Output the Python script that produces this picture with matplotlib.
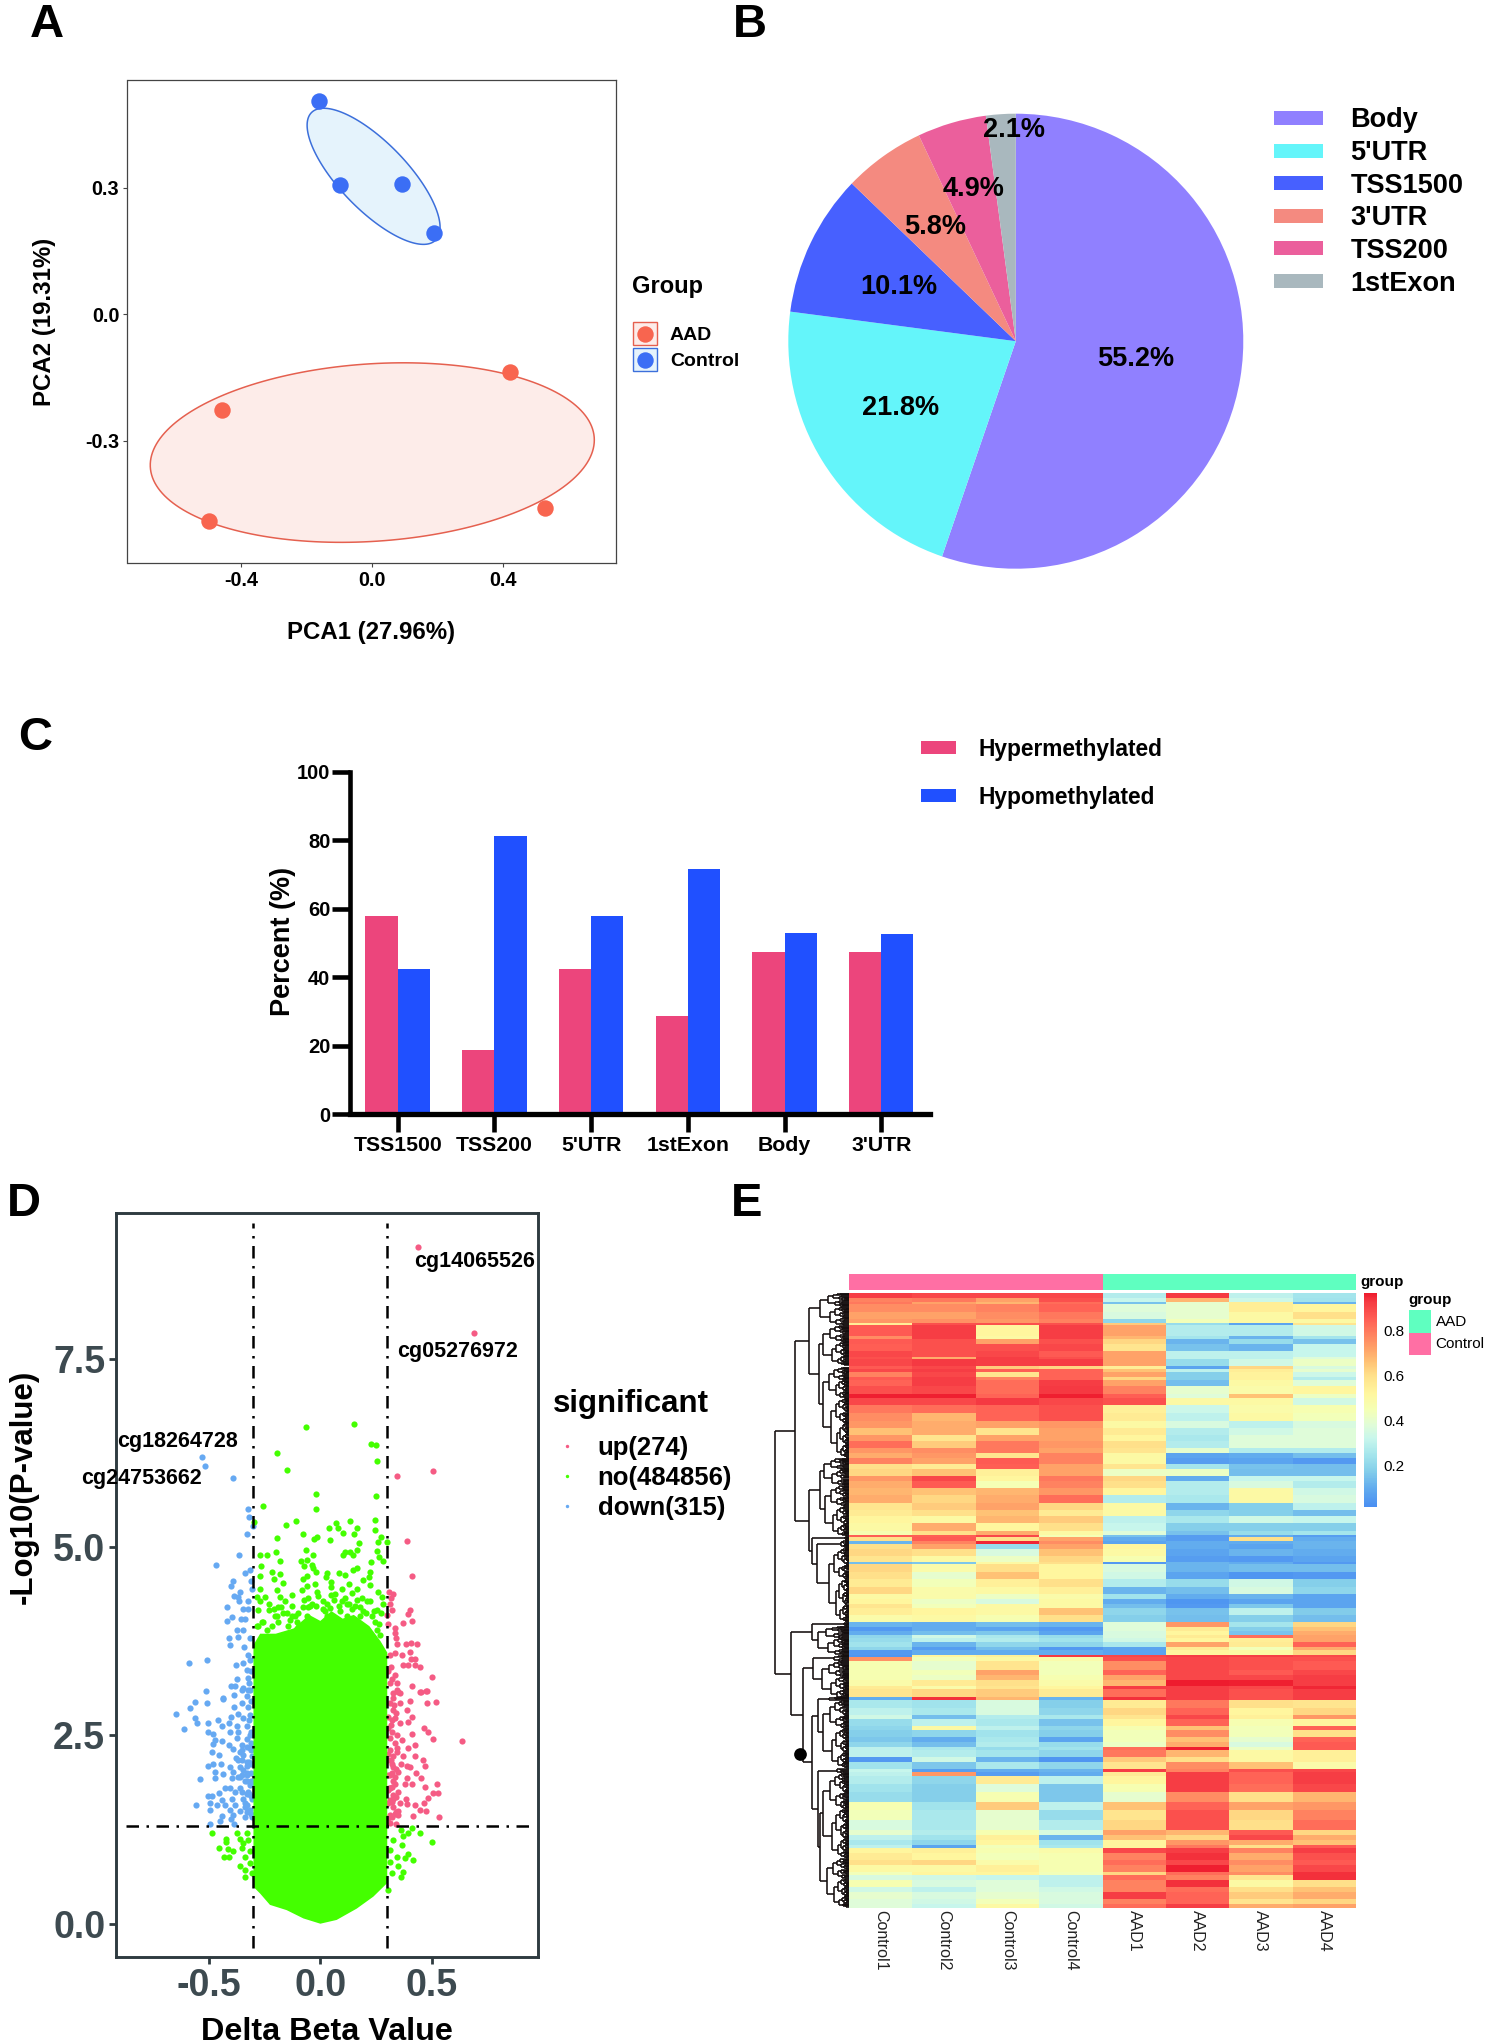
import numpy as np
import matplotlib
matplotlib.use("Agg")
import matplotlib.pyplot as plt
from matplotlib.patches import Rectangle
from matplotlib.colors import LinearSegmentedColormap
from matplotlib.collections import LineCollection

W, H = 1488, 2044
plt.rcParams['font.family'] = ['Liberation Sans', 'DejaVu Sans']
plt.rcParams['font.weight'] = 'bold'
plt.rcParams['axes.unicode_minus'] = False

# ---------- Panel A ----------
PCA_AAD_X = [0.42, -0.46, -0.50, 0.528]
PCA_AAD_Y = [-0.136, -0.228, -0.491, -0.46]
PCA_CTL_X = [-0.164, -0.10, 0.092, 0.188]
PCA_CTL_Y = [0.505, 0.307, 0.309, 0.193]
# centre x, centre y, half-width x, half-height y, correlation
ELL_AAD = (0.0, -0.328, 0.678, 0.213, 0.14)
ELL_CTL = (0.004, 0.3275, 0.203, 0.1615, -0.75)

# ---------- Panel B ----------
PIE_LABELS = ['Body', "5'UTR", 'TSS1500', "3'UTR", 'TSS200', '1stExon']
PIE_VALUES = [55.2, 21.8, 10.1, 5.8, 4.9, 2.1]
PIE_COLORS = ['#9080FF', '#64F5FA', '#4760FF', '#F48A80', '#EB5F9C', '#A9B8BE']

# ---------- Panel C ----------
BAR_CATS = ['TSS1500', 'TSS200', "5'UTR", '1stExon', 'Body', "3'UTR"]
BAR_HYPER = [57.7, 18.7, 42.2, 28.6, 47.2, 47.4]
BAR_HYPO = [42.3, 81.3, 57.8, 71.4, 52.8, 52.6]

# ---------- Panel D ----------
MASS_X = [-0.30, -0.27, -0.20, -0.12, -0.05, 0.0, 0.05, 0.10, 0.15, 0.22, 0.27, 0.30,
          0.30, 0.238, 0.163, 0.073, 0.0, -0.076, -0.151, -0.226, -0.27, -0.30]
MASS_Y = [3.70, 3.85, 3.85, 3.92, 4.10, 4.02, 4.15, 4.05, 4.10, 3.95, 3.75, 3.60,
          0.54, 0.36, 0.20, 0.05, 0.0, 0.07, 0.18, 0.25, 0.40, 0.49]
NO_X = [-.065, .149, .228, .249, -.196, .252, -.151, -.021, .248, -.259, -.021, -.111, -.156, .134, .244, -.296,
        .07, .04, .077, .164, .244, .101, -.078, .152, -.193, -.029, -.014, .045, .272, .26, .297, .172,
        -.065, .163, -.199, -.271, -.238, -.035, .11, .133, .10, .147, .255, .263, .279, -.183, -.087, -.059,
        .228, -.266, -.073, -.039, .163, -.032, -.021, .147, -.219, -.181, .082, .11, .032, .222, -.271, -.062,
        -.208, -.08, .025, .22, -.166, -.024, .05, .13, .192, -.062, .05, .095, .222, -.271, -.196, -.084,
        -.017, .163, .26, -.286, -.248, -.181, -.129, -.054, .05, .11, .14, .275, -.271, -.16, -.039, .013,
        .095, .222, .282, -.188, -.077, .043, .178, -.23, .253, -.278, -.196, -.129, -.062, .028, .118, .178,
        -.256, -.188, -.106, -.278, -.218, -.144, .253, -.09, .267,
        -.484, -.423, -.423, -.453, -.413, -.39, -.431, -.41, -.375, -.36, -.345, -.33, -.323, -.352, -.316,
        -.338, -.36, -.338, -.316, -.338, -.308,
        .36, .41, .446, .499, .372, .394, .327, .365, .394, .417, .38, .342, .312, .35, .372, .32, .361, .305, .312,
        -.24, -.204, -.167, -.137, -.114, -.099, -.055, -.02, .01, .03, .06, .085, .12, .14, .165, .19, .205, .23, .245, .265,
        -.285, -.26, -.23, -.21, -.175, -.15, -.125, -.10, -.075, -.045, -.01, .02, .065, .09, .13, .155, .185, .21, .24, .27]
NO_Y = [6.60, 6.64, 6.37, 6.35, 6.25, 6.14, 6.03, 5.70, 5.68, 5.54, 5.50, 5.35, 5.29, 5.34, 5.36, 5.33,
        5.32, 5.25, 5.26, 5.25, 5.23, 5.19, 5.18, 5.17, 5.12, 5.11, 5.13, 5.10, 5.13, 5.07, 5.07, 5.05,
        4.96, 4.96, 4.93, 4.90, 4.89, 4.90, 4.94, 4.94, 4.89, 4.90, 4.95, 4.87, 4.82, 4.81, 4.81, 4.83,
        4.80, 4.75, 4.75, 4.76, 4.72, 4.72, 4.67, 4.70, 4.67, 4.64, 4.66, 4.63, 4.65, 4.67, 4.62, 4.62,
        4.58, 4.58, 4.60, 4.60, 4.52, 4.51, 4.53, 4.51, 4.56, 4.48, 4.47, 4.45, 4.50, 4.45, 4.43, 4.43,
        4.41, 4.45, 4.41, 4.34, 4.34, 4.34, 4.36, 4.32, 4.36, 4.32, 4.39, 4.34, 4.28, 4.29, 4.25, 4.28,
        4.28, 4.28, 4.25, 4.20, 4.20, 4.19, 4.20, 4.16, 4.17, 4.17, 4.09, 4.08, 4.08, 4.08, 4.08, 4.08,
        4.01, 4.01, 4.01, 3.95, 3.95, 3.95, 3.90, 3.90, 3.83,
        1.20, 1.13, 1.08, 1.00, .99, .96, .89, .89, 1.20, 1.13, 1.07, 1.20, 1.11, 1.00, .96,
        .89, .76, .71, .80, .62, .67,
        1.24, 1.27, 1.20, 1.08, 1.16, 1.20, 1.11, 1.04, .93, .85, .87, .89, .98, .76, .69, .67, .62, .45, .82,
        3.90, 4.08, 4.12, 4.03, 4.08, 3.94, 4.20, 4.22, 4.18, 4.25, 4.30, 4.22, 4.25, 4.18, 4.30, 4.15, 4.12, 4.08, 4.00, 3.98,
        3.95, 4.00, 4.25, 4.18, 4.20, 4.12, 4.22, 4.12, 4.30, 4.22, 4.35, 4.15, 4.38, 4.15, 4.25, 4.22, 4.32, 4.28, 4.15, 4.12]
DOWN_X = [-.53, -.518, -.392, -.326, -.319, -.30, -.328, -.365, -.47, -.338, -.316, -.313, -.393, -.40, -.308, -.36,
          -.387, -.368, -.364, -.325, -.42, -.345, -.323, -.398, -.42, -.356, -.337, -.375, -.345, -.41, -.368, -.316,
          -.405, -.342, -.51, -.59, -.323, -.345, -.316, -.38, -.327, -.372, -.323, -.512, -.402, -.383, -.345, -.316,
          -.435, -.388, -.352, -.323, -.435, -.564, -.509, -.583, -.647, -.388, -.352, -.323, -.316, -.368, -.561, -.552,
          -.458, -.40, -.345, -.503, -.442, -.408, -.375, -.33, -.61, -.505, -.483, -.405, -.375, -.316, -.472, -.442,
          -.48, -.41, -.353, -.39, -.316, -.487, -.453, -.345, -.368, -.308, -.503, -.48, -.444, -.405, -.36, -.327,
          -.39, -.345, -.472, -.435, -.472, -.538, -.398, -.338, -.316, -.36, -.428, -.405, -.453, -.383, -.323, -.505,
          -.486, -.398, -.442, -.345, -.308, -.496, -.465, -.558, -.428, -.383, -.33, -.493, -.405, -.36, -.316, -.442,
          -.39, -.338, -.45, -.496, -.402, -.387, -.308,
          -.31, -.32, -.33, -.31, -.32, -.33, -.31, -.32, -.33, -.31, -.32, -.33, -.34, -.35, -.36, -.37,
          -.31, -.325, -.34, -.31, -.33, -.35, -.31, -.33, -.31, -.33, -.35, -.37, -.31, -.33, -.35, -.31, -.33, -.36, -.38, -.31]
DOWN_Y = [6.20, 6.08, 5.92, 5.50, 5.40, 5.28, 5.17, 4.89, 4.76, 4.65, 4.70, 4.55, 4.55, 4.48, 4.44, 4.41,
          4.35, 4.34, 4.28, 4.29, 4.20, 4.18, 4.18, 4.07, 4.02, 4.05, 4.05, 3.90, 3.90, 3.79, 3.80, 3.79,
          3.70, 3.67, 3.50, 3.46, 3.57, 3.46, 3.50, 3.43, 3.37, 3.25, 3.26, 3.09, 3.15, 3.15, 3.13, 3.10,
          2.99, 3.04, 3.10, 3.10, 2.98, 2.95, 2.93, 2.86, 2.79, 2.88, 2.93, 2.88, 2.77, 2.79, 2.73, 2.66,
          2.71, 2.74, 2.73, 2.66, 2.63, 2.66, 2.62, 2.62, 2.58, 2.54, 2.52, 2.55, 2.47, 2.51, 2.44, 2.42,
          2.38, 2.37, 2.37, 2.32, 2.33, 2.28, 2.24, 2.24, 2.17, 2.22, 2.10, 2.12, 2.12, 2.08, 2.08, 2.09,
          2.02, 2.04, 2.01, 1.99, 1.94, 1.92, 1.93, 1.89, 1.84, 1.80, 1.80, 1.80, 1.74, 1.75, 1.75, 1.70,
          1.70, 1.66, 1.64, 1.66, 1.66, 1.60, 1.57, 1.57, 1.58, 1.58, 1.58, 1.51, 1.51, 1.49, 1.51, 1.43,
          1.44, 1.42, 1.36, 1.33, 1.39, 1.32, 1.42,
          3.36, 3.20, 3.02, 2.96, 2.70, 2.45, 2.40, 2.15, 1.98, 1.90, 1.72, 1.48, 1.60, 2.30, 1.95, 2.55,
          1.45, 1.50, 1.55, 1.70, 1.72, 1.75, 1.85, 1.90, 2.00, 2.00, 1.97, 1.95, 2.12, 2.15, 2.18, 2.30, 2.35, 2.28, 2.20, 2.55]
UP_X = [.439, .691, .505, .343, .388, .409, .308, .327, .315, .312, .322, .40, .394, .301, .412, .37, .304, .336, .336, .34,
        .344, .382, .406, .435, .334, .364, .40, .312, .424, .405, .372, .394, .424, .446, .319, .334, .50, .413, .342, .312,
        .476, .45, .35, .327, .342, .357, .448, .478, .327, .357, .402, .478, .52, .312, .387, .327, .413, .394, .334, .357,
        .317, .466, .481, .412, .504, .633, .342, .312, .364, .425, .394, .342, .312, .372, .425, .459, .319, .469, .387, .402,
        .327, .35, .427, .312, .453, .387, .327, .523, .41, .379, .469, .312, .35, .504, .526, .327, .484, .384, .312, .357,
        .465, .425, .387, .327, .447, .472, .417, .533, .312, .35, .339, .312,
        .305, .32, .33, .305, .32, .335, .305, .32, .335, .31, .325, .34,
        .305, .32, .335, .35, .305, .32, .34, .305, .32, .335, .305, .32, .34, .36, .305, .325, .345, .305, .32, .34]
UP_Y = [8.99, 7.84, 6.01, 5.95, 5.08, 4.62, 4.41, 4.38, 4.33, 4.25, 4.17, 4.17, 4.11, 4.10, 4.02, 3.99, 3.98, 3.92, 3.86, 3.79,
        3.72, 3.71, 3.73, 3.71, 3.59, 3.57, 3.61, 3.57, 3.52, 3.52, 3.44, 3.43, 3.43, 3.41, 3.41, 3.30, 3.28, 3.16, 3.19, 3.19,
        3.09, 3.07, 3.08, 3.06, 3.10, 3.06, 3.07, 3.09, 2.99, 2.93, 2.96, 2.93, 2.94, 2.93, 2.84, 2.84, 2.74, 2.68, 2.73, 2.66,
        2.64, 2.60, 2.55, 2.52, 2.45, 2.43, 2.51, 2.46, 2.44, 2.37, 2.33, 2.33, 2.31, 2.22, 2.23, 2.18, 2.17, 2.09, 2.09, 2.08,
        2.08, 2.02, 2.00, 1.97, 1.93, 1.93, 1.89, 1.85, 1.86, 1.86, 1.81, 1.80, 1.75, 1.74, 1.74, 1.71, 1.67, 1.66, 1.64, 1.60,
        1.60, 1.57, 1.59, 1.55, 1.51, 1.49, 1.43, 1.42, 1.44, 1.44, 1.33, 1.34,
        3.35, 3.25, 2.90, 2.75, 2.55, 2.40, 2.25, 2.12, 1.95, 1.80, 1.65, 1.48,
        1.40, 1.42, 1.45, 1.50, 1.60, 1.62, 1.68, 1.78, 1.82, 1.85, 1.98, 2.00, 2.05, 2.12, 2.18, 2.22, 2.28, 2.60, 2.70, 2.80]
VOLCANO_LABELS = ['cg14065526', 'cg05276972', 'cg18264728', 'cg24753662']

# ---------- Panel E ----------
SAMPLES = ['Control1', 'Control2', 'Control3', 'Control4', 'AAD1', 'AAD2', 'AAD3', 'AAD4']
BAND_ROWS = [5, 4, 2, 8, 7, 4, 2, 11, 3, 5, 7, 6, 2, 7, 3, 3, 5, 3, 6, 8, 4, 7, 8, 8, 7, 7, 6, 7, 5, 5, 6, 5, 7, 5, 7, 7,
             8, 7, 6, 7, 8, 4, 2, 4, 3, 5, 7, 6, 2, 8, 7, 8, 7, 5,
             4, 4, 7, 7, 5, 4, 4, 3, 4, 5, 3, 5, 2, 4, 9, 5, 5, 6, 3, 8, 3, 8, 7, 4, 7, 4, 7, 5, 5, 3, 7, 5, 7, 3, 4, 8, 8,
             10, 8, 10, 10, 5, 5, 5, 3, 5, 7, 5, 7, 3, 5, 7, 5, 7, 5, 4]
BAND_VALUES = [
    [.92, .90, .90, .90, .28, .93, .30, .25], [.78, .80, .72, .88, .32, .68, .33, .24],
    [.80, .72, .68, .82, .15, .40, .55, .12], [.76, .76, .78, .84, .38, .40, .55, .52],
    [.72, .72, .76, .80, .36, .40, .50, .60], [.74, .75, .74, .78, .20, .44, .50, .50],
    [.55, .88, .88, .88, .64, .22, .08, .58], [.86, .92, .52, .92, .72, .28, .28, .34],
    [.76, .92, .50, .92, .68, .25, .12, .25], [.86, .88, .72, .88, .62, .12, .22, .15],
    [.85, .88, .88, .90, .58, .15, .12, .32], [.90, .88, .90, .86, .72, .30, .30, .32],
    [.88, .70, .92, .88, .72, .30, .30, .38], [.90, .93, .92, .92, .72, .22, .34, .42],
    [.86, .90, .64, .62, .55, .08, .62, .36], [.90, .92, .85, .84, .66, .30, .55, .40],
    [.78, .90, .58, .84, .72, .18, .53, .33], [.86, .92, .78, .84, .62, .18, .53, .28],
    [.84, .92, .82, .92, .72, .14, .50, .38], [.88, .90, .82, .93, .78, .40, .48, .52],
    [.96, .96, .84, .96, .85, .38, .66, .42], [.90, .90, .93, .90, .88, .50, .50, .34],
    [.80, .82, .84, .88, .54, .33, .48, .46], [.76, .68, .84, .88, .56, .30, .50, .44],
    [.74, .70, .72, .74, .50, .36, .30, .36], [.66, .70, .58, .72, .56, .28, .34, .38],
    [.74, .58, .72, .72, .52, .26, .38, .38], [.82, .64, .80, .74, .60, .28, .38, .38],
    [.74, .76, .80, .72, .58, .40, .28, .28], [.70, .74, .58, .78, .50, .08, .10, .14],
    [.78, .72, .86, .78, .50, .06, .08, .05], [.60, .56, .85, .72, .58, .25, .15, .14],
    [.62, .66, .54, .72, .42, .42, .14, .14], [.74, .90, .52, .80, .62, .10, .32, .32],
    [.70, .86, .45, .78, .60, .28, .36, .28], [.68, .66, .68, .74, .52, .28, .50, .34],
    [.70, .62, .70, .82, .28, .26, .50, .36], [.58, .64, .72, .62, .50, .12, .18, .30],
    [.56, .60, .66, .56, .50, .20, .18, .14], [.52, .50, .68, .64, .30, .26, .34, .32],
    [.50, .70, .52, .60, .32, .18, .18, .18], [.46, .60, .70, .50, .38, .15, .22, .25],
    [.85, .85, .90, .45, .15, .06, .10, .06], [.60, .86, .60, .72, .10, .06, .60, .10],
    [.12, .78, .95, .76, .08, .10, .10, .12], [.60, .72, .22, .72, .52, .10, .08, .12],
    [.62, .60, .36, .66, .50, .08, .12, .10], [.58, .50, .42, .62, .46, .06, .05, .08],
    [.14, .16, .50, .60, .05, .12, .10, .05], [.62, .48, .60, .52, .36, .12, .14, .14],
    [.60, .40, .66, .52, .34, .08, .04, .05], [.56, .44, .54, .60, .28, .22, .34, .18],
    [.62, .48, .50, .54, .12, .14, .36, .20], [.50, .48, .42, .48, .24, .10, .12, .08],
    [.52, .42, .36, .50, .10, .04, .08, .08], [.58, .44, .50, .50, .14, .05, .16, .08],
    [.55, .52, .50, .66, .20, .15, .30, .17], [.48, .50, .46, .60, .18, .14, .18, .14],
    [.12, .10, .14, .12, .38, .74, .25, .62], [.05, .10, .08, .05, .38, .56, .18, .66],
    [.10, .14, .16, .08, .36, .52, .15, .70], [.20, .34, .26, .22, .36, .56, .82, .72],
    [.22, .30, .28, .24, .34, .52, .55, .72], [.24, .12, .20, .20, .26, .72, .56, .84],
    [.20, .06, .14, .05, .08, .56, .44, .70], [.05, .10, .10, .10, .08, .52, .50, .62],
    [.04, .52, .54, .93, .90, .92, .92, .90], [.75, .44, .50, .48, .88, .90, .88, .88],
    [.46, .40, .58, .44, .76, .90, .88, .86], [.46, .44, .72, .44, .84, .90, .86, .90],
    [.46, .42, .68, .46, .72, .90, .90, .92], [.48, .56, .60, .48, .68, .98, .96, .92],
    [.56, .48, .58, .52, .92, .92, .90, .95], [.58, .62, .64, .56, .82, .92, .88, .92],
    [.10, .94, .68, .12, .94, .92, .88, .92], [.26, .24, .36, .18, .56, .80, .60, .58],
    [.30, .26, .36, .20, .62, .84, .52, .62], [.34, .14, .28, .26, .58, .90, .54, .74],
    [.22, .30, .26, .15, .52, .84, .46, .52], [.20, .50, .30, .20, .46, .66, .44, .84],
    [.18, .20, .24, .18, .44, .76, .44, .60], [.16, .10, .26, .08, .44, .66, .40, .84],
    [.20, .14, .28, .22, .42, .70, .36, .86], [.30, .26, .22, .24, .82, .96, .42, .86],
    [.30, .28, .25, .20, .80, .68, .50, .54], [.05, .34, .12, .04, .64, .60, .50, .54],
    [.24, .16, .26, .20, .58, .76, .66, .48], [.32, .06, .10, .12, .92, .78, .88, .90],
    [.30, .74, .06, .10, .56, .92, .84, .92], [.28, .20, .56, .30, .52, .92, .84, .92],
    [.24, .18, .38, .16, .46, .92, .82, .90], [.22, .18, .46, .16, .40, .76, .60, .68],
    [.46, .24, .64, .30, .66, .84, .72, .74], [.44, .26, .40, .22, .58, .88, .62, .78],
    [.36, .26, .40, .28, .62, .88, .60, .82], [.40, .28, .46, .36, .72, .68, .86, .62],
    [.30, .24, .54, .12, .66, .62, .90, .70], [.26, .20, .52, .24, .52, .74, .70, .66],
    [.30, .08, .44, .26, .52, .80, .60, .86], [.52, .54, .46, .48, .90, .92, .78, .92],
    [.56, .52, .44, .46, .78, .94, .70, .88], [.60, .62, .48, .46, .82, .90, .76, .86],
    [.50, .50, .54, .46, .78, .96, .72, .90], [.44, .52, .52, .44, .62, .82, .76, .94],
    [.36, .34, .32, .30, .82, .78, .58, .94], [.46, .36, .38, .30, .78, .94, .50, .60],
    [.34, .30, .38, .34, .78, .82, .60, .66], [.40, .36, .40, .36, .92, .84, .64, .70],
    [.38, .34, .44, .36, .78, .84, .58, .62], [.38, .32, .50, .34, .82, .92, .70, .72],
]
CMAP_STOPS = [(.018, '#4A8FF2'), (.10, '#62ACEE'), (.18, '#86D0EA'), (.25, '#A5E6EC'), (.32, '#C8F6EC'),
              (.38, '#E0FCD8'), (.45, '#F5FFB4'), (.52, '#FFF69E'), (.60, '#FFE08A'), (.66, '#FFC275'),
              (.72, '#FFA268'), (.78, '#FF8360'), (.85, '#FF5F55'), (.93, '#F53A42'), (.964, '#EE1C2E')]


def ax_px(l, t, r, b):
    return fig.add_axes([l / W, 1 - b / H, (r - l) / W, (b - t) / H])


fig = plt.figure(figsize=(W / 100, H / 100), dpi=100, facecolor='white')

ov = fig.add_axes([0, 0, 1, 1], zorder=20)
ov.set_xlim(0, W)
ov.set_ylim(H, 0)
ov.axis('off')
ov.patch.set_alpha(0)


def T(x, y, s, size, ha='center', va='center', weight='bold', rot=0, color='black'):
    if rot:
        x = x + size * 0.2
    else:
        y = y + size * 0.13
    ov.text(x, y, s, fontsize=size, ha=ha, va=va, fontweight=weight, rotation=rot, color=color)


for letter, x, y in [('A', 47, 21), ('B', 750, 21), ('C', 35.5, 734), ('D', 24, 1200), ('E', 747, 1200)]:
    T(x, y, letter, 34)

# ---- A: PCA ----
axA = ax_px(127.5, 80, 615.6, 563)
axA.set_xlim(-0.7475, 0.743)
axA.set_ylim(-0.59, 0.556)
for (cx, cy, sx, sy, rho), fc, ec in [(ELL_AAD, '#FDECE9', '#E5604F'), (ELL_CTL, '#E5F3FC', '#3C6FDB')]:
    t = np.linspace(0, 2 * np.pi, 200)
    ex = cx + sx * np.cos(t)
    ey = cy + sy * (rho * np.cos(t) + np.sqrt(1 - rho ** 2) * np.sin(t))
    axA.fill(ex, ey, facecolor=fc, edgecolor=ec, lw=1.1, zorder=1)
axA.scatter(PCA_AAD_X, PCA_AAD_Y, s=140, c='#F8654F', zorder=3, linewidths=0)
axA.scatter(PCA_CTL_X, PCA_CTL_Y, s=140, c='#3B6EF5', zorder=3, linewidths=0)
axA.set_xticks([-0.4, 0.0, 0.4])
axA.set_yticks([-0.3, 0.0, 0.3])
axA.set_xticklabels(['-0.4', '0.0', '0.4'])
axA.set_yticklabels(['-0.3', '0.0', '0.3'])
axA.tick_params(labelsize=14.2, length=3, width=0.8, color='#444444', pad=3)
for s in axA.spines.values():
    s.set_color('#444444')
    s.set_linewidth(0.9)
T(371, 630, 'PCA1 (27.96%)', 17.3)
T(41, 322, 'PCA2 (19.31%)', 17.3, rot=90)
T(632, 284, 'Group', 17, ha='left')
for y, lab, fc, ec in [(334, 'AAD', '#F8654F', '#E5604F'), (360, 'Control', '#3B6EF5', '#3C6FDB')]:
    ov.add_patch(Rectangle((633, y - 11.5), 24, 23, fc='#FDECE9' if lab == 'AAD' else '#E5F3FC', ec=ec, lw=1))
    ov.scatter([645], [y], s=140, c=fc, linewidths=0)
    T(670, y, lab, 14, ha='left')

# ---- B: pie ----
R = 227.5
axB = ax_px(1015.8 - R, 341.2 - R, 1015.8 + R, 341.2 + R)
axB.pie(PIE_VALUES, colors=PIE_COLORS, startangle=90, counterclock=False, radius=1)
axB.set_xlim(-1, 1)
axB.set_ylim(-1, 1)
pie_pos = [(1136, 356), (900.7, 405), (899, 284), (935, 224.6), (973.6, 186.8), (1013.5, 127)]
for (x, y), v in zip(pie_pos, PIE_VALUES):
    T(x, y, f'{v}%', 19.5)
for y, lab, c in zip([117.9, 150.8, 183.3, 215.8, 248.4, 281.3], PIE_LABELS, PIE_COLORS):
    ov.add_patch(Rectangle((1274, y - 7), 48.7, 14, fc=c, ec='none'))
    T(1350.5, y, lab, 19.5, ha='left')

# ---- C: bars ----
axC = ax_px(349.7, 771.5, 929.6, 1114)
pos = np.arange(len(BAR_CATS))
bw = 0.333
axC.bar(pos - bw / 2, BAR_HYPER, bw, color='#EC457C')
axC.bar(pos + bw / 2, BAR_HYPO, bw, color='#2050FF')
axC.set_xlim(-0.496, 5.5)
axC.set_ylim(0, 100)
axC.set_xticks(pos)
axC.set_xticklabels(BAR_CATS)
axC.set_yticks(range(0, 101, 20))
axC.tick_params(axis='x', labelsize=15.3, length=13, width=3.3, pad=3)
axC.tick_params(axis='y', labelsize=14.5, length=13, width=3.3, pad=1)
for side in ('top', 'right'):
    axC.spines[side].set_visible(False)
axC.spines['left'].set_linewidth(3.3)
axC.spines['bottom'].set_linewidth(3.8)
T(279, 941.7, 'Percent (%)', 19.5, rot=90)
for y, lab, c in [(747.7, 'Hypermethylated', '#EC457C'), (795.3, 'Hypomethylated', '#2050FF')]:
    ov.add_patch(Rectangle((921, y - 6.5), 35, 13, fc=c, ec='none'))
    T(978, y, lab, 16.4, ha='left')

# ---- D: volcano ----
axD = ax_px(116.3, 1213.4, 538, 1957)
axD.set_xlim(-0.915, 0.976)
axD.set_ylim(-0.442, 9.43)
GREEN, BLUE, RED = '#44FF00', '#66A9F2', '#F55B84'
axD.scatter(DOWN_X, DOWN_Y, s=20, c=BLUE, linewidths=0, zorder=2)
axD.scatter(UP_X, UP_Y, s=20, c=RED, linewidths=0, zorder=2)
axD.fill(MASS_X, MASS_Y, color=GREEN, lw=0, zorder=3)
axD.scatter(NO_X, NO_Y, s=20, c=GREEN, linewidths=0, zorder=3)
dd = (0, (5, 3, 1, 3))
axD.plot([-0.3, -0.3], [-0.325, 9.3], color='black', lw=1.8, ls=dd, zorder=4)
axD.plot([0.3, 0.3], [-0.325, 9.3], color='black', lw=1.8, ls=dd, zorder=4)
axD.plot([-0.872, 0.943], [1.301, 1.301], color='black', lw=1.8, ls=dd, zorder=4)
axD.set_xticks([-0.5, 0.0, 0.5])
axD.set_xticklabels(['-0.5', '0.0', '0.5'])
axD.set_yticks([0, 2.5, 5.0, 7.5])
axD.set_yticklabels(['0.0', '2.5', '5.0', '7.5'])
axD.tick_params(labelsize=27, length=5, width=2, color='#2f3b40', labelcolor='#3d4a50', pad=3)
for s in axD.spines.values():
    s.set_color('#2f3b40')
    s.set_linewidth(2.1)
for lab, (x, y) in zip(VOLCANO_LABELS, [(474.6, 1259.7), (458, 1349.6), (177.9, 1439.5), (141, 1476)]):
    T(x, y, lab, 15.5)
T(327, 2029, 'Delta Beta Value', 23.3)
T(19.4, 1486.8, '-Log10(P-value)', 22.5, rot=90)
T(552.6, 1401, 'significant', 22.5, ha='left')
for y, lab, c in [(1446, 'up(274)', RED), (1476, 'no(484856)', GREEN), (1506, 'down(315)', BLUE)]:
    ov.scatter([567], [y], s=6, c=c, linewidths=0)
    T(597.7, y, lab, 18.5, ha='left')

# ---- E: heatmap ----
axE = ax_px(849.1, 1293.3, 1356, 1907.7)
vmin, vmax = CMAP_STOPS[0][0], CMAP_STOPS[-1][0]
cmap = LinearSegmentedColormap.from_list('heat', [((v - vmin) / (vmax - vmin), c) for v, c in CMAP_STOPS])
edges = np.concatenate([[0], np.cumsum(BAND_ROWS)])
mesh = axE.pcolormesh(np.arange(len(SAMPLES) + 1), edges, np.array(BAND_VALUES), cmap=cmap, vmin=vmin, vmax=vmax)
axE.set_ylim(edges[-1], 0)
axE.set_yticks([])
axE.set_xticks(np.arange(len(SAMPLES)) + 0.5)
axE.set_xticklabels(SAMPLES, rotation=-90, fontsize=11.5, fontweight='normal', ha='center', va='top', color='#222222')
axE.tick_params(axis='x', length=0, pad=2)
for s in axE.spines.values():
    s.set_visible(False)
ov.add_patch(Rectangle((849.1, 1273.8), 1102.6 - 849.1, 15.9, fc='#FF6FA4', ec='none'))
ov.add_patch(Rectangle((1102.6, 1273.8), 1356 - 1102.6, 15.9, fc='#5FFFC0', ec='none'))
T(1382, 1281, 'group', 11)
T(1408.6, 1299, 'group', 11, ha='left')
ov.add_patch(Rectangle((1408.6, 1310), 22.7, 22.8, fc='#5FFFC0', ec='none'))
ov.add_patch(Rectangle((1408.6, 1332.8), 22.7, 22.2, fc='#FF6FA4', ec='none'))
T(1435.5, 1321, 'AAD', 11, ha='left', weight='normal')
T(1435.5, 1343, 'Control', 11, ha='left', weight='normal')
cax = ax_px(1363.5, 1293.3, 1377.4, 1506.7)
cb = fig.colorbar(mesh, cax=cax)
cb.set_ticks([0.2, 0.4, 0.6, 0.8])
cb.ax.tick_params(length=0, pad=4)
for lab in cb.ax.get_yticklabels():
    lab.set_fontsize(11)
    lab.set_fontweight('normal')
cb.outline.set_visible(False)

# dendrogram: merge heights over the heatmap's rows
SPLITS = [0.42, 0.55, 0.35, 0.6, 0.48, 0.3, 0.66]


def fan(r0, r1, h, i=0):
    if r1 - r0 <= 1.2:
        return (r0 + r1) / 2
    s = SPLITS[i % len(SPLITS)]
    m = r0 + (r1 - r0) * s
    nh = h * 0.74
    return (h, fan(r0, m, nh, i + 1), fan(m, r1, nh * 0.9, i + 3))


TREE = (74.3,
        (54,
         (40, fan(0, 32, 29),
          (30, fan(32, 72, 26), (26, fan(74, 105, 20), fan(105, 165, 18)))),
         (40, (29, fan(165, 192, 25), fan(192, 243, 24)),
          (37, fan(243, 247, 4), (32, fan(247, 255, 8), fan(255, 329, 20))))),
        (58,
         (37, fan(329, 333, 5), fan(333, 362, 31)),
         (46,
          (36, fan(362, 368, 15), fan(368, 405, 27)),
          (37,
           (31, fan(404, 407, 20), fan(407, 475, 25.7)),
           (31, fan(475, 480, 12), (29, fan(480, 565, 26), fan(565, 614, 22)))))))
segs = []


def walk(n):
    if not isinstance(n, tuple):
        return n, 0.0
    h, a, b = n
    ya, ha_ = walk(a)
    yb, hb_ = walk(b)
    segs.append([(h, ya), (h, yb)])
    segs.append([(h, ya), (ha_, ya)])
    segs.append([(h, yb), (hb_, yb)])
    return (ya + yb) / 2, h


axT = ax_px(770, 1293.3, 849.1, 1907.7)
axT.set_xlim(79.1, 0)
axT.set_ylim(614.4, 0)
axT.axis('off')
rooty, _ = walk(TREE)
axT.add_collection(LineCollection(segs, colors='#140e0e', linewidths=1.15))
ov.scatter([800], [1754.3], s=84, c='black', linewidths=0, zorder=5)

fig.savefig('out.png', dpi=100, facecolor='white')
